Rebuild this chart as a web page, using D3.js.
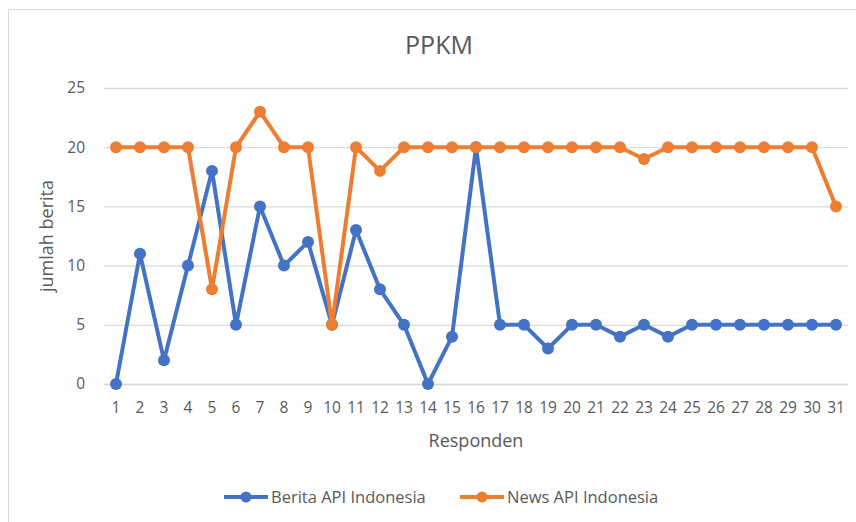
<!DOCTYPE html>
<html>
<head>
<meta charset="utf-8">
<script src="https://cdn.jsdelivr.net/npm/d3@7"></script>
<style>
  body { margin: 0; background: #fff; }
  svg text { font-family: "Open Sans", "Noto Sans", sans-serif; fill: #595959; }
</style>
</head>
<body>
<svg id="chart" width="856" height="522"></svg>
<script>
// data
var responden = d3.range(1, 32).map(String);
var beritaApi = [0, 11, 2, 10, 18, 5, 15, 10, 12, 5, 13, 8, 5, 0, 4, 20, 5, 5, 3, 5, 5, 4, 5, 4, 5, 5, 5, 5, 5, 5, 5];
var newsApi = [20, 20, 20, 20, 8, 20, 23, 20, 20, 5, 20, 18, 20, 20, 20, 20, 20, 20, 20, 20, 20, 20, 19, 20, 20, 20, 20, 20, 20, 20, 15];
var yTicks = [0, 5, 10, 15, 20, 25];
var seriesNames = ["Berita API Indonesia", "News API Indonesia"];
var seriesColors = ["#4472C4", "#ED7D31"];

var svg = d3.select("#chart");

var margin = { top: 88, right: 8, bottom: 138, left: 104 },
  width = 856 - margin.left - margin.right,
  height = 522 - margin.top - margin.bottom;

// outer frame (only top and left edges show)
svg.append("path")
  .attr("d", "M8.5,522 V9.5 H856")
  .attr("fill", "none")
  .attr("stroke", "#d9d9d9")
  .attr("stroke-width", 1);

var x = d3.scaleBand().domain(responden).range([0, width]);
var y = d3.scaleLinear().domain([0, 25]).range([height, 0]);

var g = svg.append("g")
  .attr("transform", "translate(" + margin.left + "," + margin.top + ")");

// gridlines + y labels
var yAxis = g.append("g")
  .call(d3.axisLeft(y).tickValues(yTicks).tickSize(-width).tickPadding(19));
yAxis.select(".domain").remove();
yAxis.selectAll("line").attr("stroke", "#d9d9d9").attr("stroke-width", 1.3);
yAxis.selectAll("text").style("font-size", "15.5px");

// x axis
var xAxis = g.append("g")
  .attr("transform", "translate(0," + height + ")")
  .call(d3.axisBottom(x).tickSize(0).tickPadding(18));
xAxis.select(".domain").attr("stroke", "#d9d9d9").attr("stroke-width", 1.3);
xAxis.selectAll("text").style("font-size", "15.5px");

var line = d3.line()
  .x(function (d, i) { return x(responden[i]) + x.bandwidth() / 2; })
  .y(function (d) { return y(d); });

[beritaApi, newsApi].forEach(function (vals, k) {
  g.append("path")
    .datum(vals)
    .attr("fill", "none")
    .attr("stroke", seriesColors[k])
    .attr("stroke-width", 4)
    .attr("stroke-linejoin", "round")
    .attr("d", line);

  g.selectAll(".pt" + k)
    .data(vals)
    .enter().append("circle")
    .attr("class", "pt" + k)
    .attr("cx", function (d, i) { return x(responden[i]) + x.bandwidth() / 2; })
    .attr("cy", function (d) { return y(d); })
    .attr("r", 6)
    .attr("fill", seriesColors[k]);
});

// title
svg.append("text")
  .attr("x", 439)
  .attr("y", 54)
  .attr("text-anchor", "middle")
  .style("font-size", "25px")
  .text("PPKM");

// axis titles
svg.append("text")
  .attr("x", margin.left + width / 2)
  .attr("y", 447)
  .attr("text-anchor", "middle")
  .style("font-size", "18px")
  .text("Responden");

svg.append("text")
  .attr("transform", "translate(53,236) rotate(-90)")
  .attr("text-anchor", "middle")
  .style("font-size", "18px")
  .text("jumlah berita");

// legend
var legendX = [224, 460];
seriesNames.forEach(function (name, k) {
  var lg = svg.append("g").attr("transform", "translate(" + legendX[k] + ",497)");
  lg.append("line")
    .attr("x1", 0).attr("x2", 44)
    .attr("stroke", seriesColors[k])
    .attr("stroke-width", 4);
  lg.append("circle")
    .attr("cx", 22)
    .attr("r", 5.5)
    .attr("fill", seriesColors[k]);
  lg.append("text")
    .attr("x", 47)
    .attr("dy", "0.35em")
    .style("font-size", "16.5px")
    .text(name);
});
</script>
</body>
</html>
